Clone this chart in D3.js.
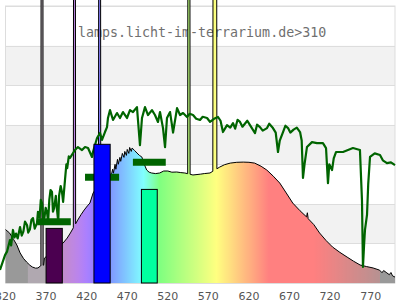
<!DOCTYPE html>
<html>
<head>
<meta charset="utf-8">
<script src="https://cdn.jsdelivr.net/npm/d3@7"></script>
<style>
  body { margin: 0; background: #fff; }
  svg { display: block; }
</style>
</head>
<body>
<div id="chart"></div>
<script>
"use strict";

// lamp spectrum (black outline): [wavelength nm, relative value]
const lampSpectrum = [
    [320, 27], [325, 25.3], [330, 22], [334, 19.2], [338, 15.2], [342, 12.5], [346, 10.6], [350, 9], [353, 8.1],
    [357, 7.5], [360, 7.6], [363, 8.6], [367, 9], [368, 12.6], [375, 15], [385, 18], [391, 20.2], [396, 22.7],
    [400, 25.3], [409, 31.8], [413, 34.5], [417, 36.9], [421, 39], [424, 40.4], [428, 45.5], [432, 48], [440, 50],
    [445, 53], [451, 55.6], [452, 57.5], [453, 55.5], [455, 60], [456, 57.5], [458, 62.5], [459, 60], [461, 63.5],
    [462, 61.5], [464, 65.5], [466, 63.5], [467, 66.5], [469, 64.5], [470, 67.5], [472, 65.5], [473, 68.5],
    [475, 66.5], [476, 68.2], [479, 67], [482, 65.7], [485, 64.5], [488, 63.7], [491, 60], [494, 57.1], [497, 56],
    [500, 55.6], [505, 55.3], [510, 55.6], [515, 56.6], [520, 56.6], [525, 56], [531, 56.1], [536, 55.8],
    [541, 55.6], [551, 54.6], [560, 55], [565, 55.3], [572, 55.6], [584, 58.6], [590, 59.8], [597, 60.6],
    [605, 61], [613, 61.1], [620, 61], [627, 60.6], [635, 59], [642, 57.1], [650, 54], [658, 50.5], [666, 45.5],
    [674, 40.4], [683, 36.5], [691, 33.4], [692, 35.5], [693, 32.5], [700, 29.5], [707, 25.3], [715, 21.5],
    [723, 18.2], [732, 15.5], [741, 13.1], [749, 11], [757, 9.1], [765, 8.3], [773, 7.6], [781, 6.5], [784, 5.2],
    [786, 6.3], [790, 5.1], [793, 4.2], [795, 5.3], [797, 3.6], [800, 3]
];

// mercury emission lines
const lineNm = [365, 405, 436, 546, 578];
const lineHalfWidth = [1.1, 1.1, 1.1, 1.2, 2.2];
const linePeak = 200;

// sunlight reference (green): [wavelength nm, relative value]
const sunSpectrum = [
    [313.2, 6.6], [319.4, 14.1], [322, 16], [325.5, 21.7], [327, 19], [329.2, 26.8], [331, 23], [333, 25],
    [335, 22.5], [337.9, 28.3], [340, 24], [342, 26], [344, 31], [346.5, 29.3], [348, 25.5], [350, 27], [352, 32],
    [353.9, 32.8], [356, 27.5], [358.8, 30.3], [360, 36], [362, 33], [363.5, 42], [365, 40.4], [366.5, 32],
    [368, 33], [369.5, 38], [371.1, 35.9], [372.5, 31], [374, 42], [375.5, 47], [377.3, 46], [378.5, 36],
    [380, 38], [382, 44], [383.5, 36.9], [385, 31], [386, 44], [388, 49], [389.6, 46], [391, 41], [393.3, 52],
    [395, 60], [396, 58], [398, 64], [399.5, 63.2], [405.6, 67.2], [409.3, 68.7], [414.3, 67.2], [418, 68.7],
    [421.7, 68.2], [426.6, 63.7], [427.8, 66.2], [432.8, 73.3], [436.5, 75.8], [438.9, 72.3], [442.6, 76.3],
    [445.1, 78.8], [446.3, 83.4], [448.8, 87.4], [452.5, 82.4], [457.4, 85.9], [461.1, 83.4], [464.8, 86.4],
    [469.7, 83.4], [473.4, 87.4], [477.1, 86.4], [482, 88.9], [485.7, 69.7], [488.2, 83.4], [491.9, 88.9],
    [495.6, 84.9], [500.5, 87.4], [504.2, 84.9], [507.9, 81.4], [510.4, 86.4], [514.1, 78.3], [516.6, 68.7],
    [519, 83.4], [522.8, 86.4], [526.5, 76], [531.4, 88.4], [535.1, 84.9], [538.8, 85.9], [543.7, 83.9],
    [547, 85.5], [551.1, 84.9], [555, 83], [559.7, 82.4], [563, 84], [568.4, 83.4], [572, 81.4], [577, 83],
    [581.9, 83.9], [585, 82], [588, 76.3], [593, 79.8], [597, 78.5], [600.4, 80.8], [603, 78], [606, 82.5],
    [609, 81.4], [612, 79], [615, 80.5], [618, 82], [621.3, 79.8], [624, 78], [627.5, 75.8], [630, 80],
    [633.6, 78.8], [637, 77], [642.3, 78.3], [645, 80.5], [649.6, 78.3], [653, 76], [655.8, 66.2], [658, 72],
    [662, 76.3], [665, 79.5], [668.2, 78.3], [671, 76], [675, 77.5], [679, 78.5], [683, 76.3], [685, 72],
    [686.6, 53.1], [688.5, 60], [691.5, 68.7], [697.7, 71.2], [703.8, 70.7], [711.2, 70.7], [715, 68.2],
    [717.4, 50.5], [719, 60], [722.4, 57.1], [724.5, 63], [727.3, 66.2], [735.9, 66.2], [748.2, 68.2],
    [756.8, 67.2], [759.3, 41.9], [760.5, 8.1], [762, 20], [763, 26.8], [765.5, 34.4], [767, 50], [769.2, 63.7],
    [775, 65.5], [781.5, 64.7], [785, 62], [790.1, 60.6], [795, 61], [800, 59.6]
];

// bands (bars)
const barStart = [370, 429, 487.5];
const barEnd = [390, 449, 507];
const barVal = [27.6, 70.1, 47.3];
const barColors = ["#4b0050", "#0000ff", "#00ffa0"];

// green range markers
const segStart = [359, 418, 477];
const segEnd = [400.5, 460, 517.5];
const segVal = [31, 53.4, 61];

const tickNm = [320, 370, 420, 470, 520, 570, 620, 670, 720, 770];
const title = "lamps.licht-im-terrarium.de>310";

const width = 400, height = 300;
const margin = { top: 6, right: 5, bottom: 17, left: 5.5 };

const x = d3.scaleLinear().domain([320, 800]).range([margin.left, width - margin.right]);
const y = d3.scaleLinear().domain([0, 140]).range([height - margin.bottom, margin.top]);

const svg = d3.select("#chart").append("svg")
    .attr("width", width)
    .attr("height", height);

// colour of a wavelength, pastel, fading to grey outside the visible range
function specColor(nm) {
    if (nm < 348 || nm > 781) return "#999999";
    if (nm < 380) return "#b0a8b0";
    let r = 0, g = 0, b = 0;
    if (nm < 440) { r = (440 - nm) / 60; b = 1; }
    else if (nm < 490) { g = (nm - 440) / 50; b = 1; }
    else if (nm < 510) { g = 1; b = (510 - nm) / 20; }
    else if (nm < 580) { r = (nm - 510) / 70; g = 1; }
    else if (nm < 645) { r = 1; g = (645 - nm) / 65; }
    else r = 1;
    let f = 1;
    if (nm < 420) f = 0.3 + 0.7 * (nm - 380) / 40;
    else if (nm > 700) f = 0.3 + 0.7 * (780 - nm) / 80;
    const c = [r, g, b].map(v => 127.5 + 127.5 * v).map(v => f * v + (1 - f) * 153);
    return d3.rgb(c[0], c[1], c[2]).formatHex();
}

const grad = svg.append("defs").append("linearGradient")
    .attr("id", "spec")
    .attr("gradientUnits", "userSpaceOnUse")
    .attr("x1", x(320)).attr("x2", x(800))
    .attr("y1", 0).attr("y2", 0);
d3.range(320, 801, 1).forEach(nm => {
    grad.append("stop")
        .attr("offset", (nm - 320) / 480)
        .attr("stop-color", specColor(nm));
});

// background bands + grid
const bandEdges = d3.range(0, 141, 20);
svg.selectAll(".band")
    .data(bandEdges.slice(0, -1))
    .enter().append("rect")
    .attr("class", "band")
    .attr("x", x(320))
    .attr("width", x(800) - x(320))
    .attr("y", d => y(d + 20))
    .attr("height", d => y(d) - y(d + 20))
    .attr("fill", (d, i) => i % 2 ? "#f2f2f2" : "#ffffff");

svg.selectAll(".grid")
    .data(bandEdges)
    .enter().append("line")
    .attr("class", "grid")
    .attr("x1", x(320)).attr("x2", x(800))
    .attr("y1", d => Math.round(y(d)) + 0.5)
    .attr("y2", d => Math.round(y(d)) + 0.5)
    .attr("stroke", "#dddddd");

svg.append("rect")
    .attr("x", x(320)).attr("y", y(140))
    .attr("width", x(800) - x(320)).attr("height", y(0) - y(140))
    .attr("fill", "none")
    .attr("stroke", "#dddddd");

svg.append("text")
    .attr("x", 78)
    .attr("y", 37)
    .attr("font-family", "DejaVu Sans Mono, monospace")
    .attr("font-size", "13.3px")
    .attr("fill", "#707070")
    .text(title);

// lamp curve including emission lines
const baseAt = nm => {
    const i = d3.bisector(d => d[0]).left(lampSpectrum, nm);
    const a = lampSpectrum[Math.max(0, i - 1)], b = lampSpectrum[Math.min(lampSpectrum.length - 1, i)];
    if (a[0] === b[0]) return a[1];
    return a[1] + (b[1] - a[1]) * (nm - a[0]) / (b[0] - a[0]);
};
let lampPts = lampSpectrum.filter(p => !lineNm.some((nm, i) => Math.abs(p[0] - nm) < lineHalfWidth[i] + 0.3));
lineNm.forEach((nm, i) => {
    const h = lineHalfWidth[i];
    lampPts.push([nm - h - 0.3, baseAt(nm - h - 0.3)]);
    lampPts.push([nm - h, linePeak]);
    lampPts.push([nm + h, linePeak]);
    lampPts.push([nm + h + 0.3, baseAt(nm + h + 0.3)]);
});
lampPts.sort((a, b) => a[0] - b[0]);

const area = d3.area()
    .x(d => x(d[0]))
    .y0(y(0))
    .y1(d => y(d[1]));
const line = d3.line()
    .x(d => x(d[0]))
    .y(d => y(d[1]));

svg.append("path")
    .datum(lampPts)
    .attr("d", area)
    .attr("fill", "url(#spec)");

svg.append("path")
    .datum(lampPts)
    .attr("d", line)
    .attr("fill", "none")
    .attr("stroke", "#000")
    .attr("stroke-width", 1);

// sunlight
svg.append("path")
    .datum(sunSpectrum)
    .attr("d", line)
    .attr("fill", "none")
    .attr("stroke", "#006400")
    .attr("stroke-width", 2.2)
    .attr("stroke-linejoin", "round");

// range markers
svg.selectAll(".seg")
    .data(segVal)
    .enter().append("line")
    .attr("class", "seg")
    .attr("x1", (d, i) => x(segStart[i]))
    .attr("x2", (d, i) => x(segEnd[i]))
    .attr("y1", d => y(d))
    .attr("y2", d => y(d))
    .attr("stroke", "#006400")
    .attr("stroke-width", 7);

// bars
svg.selectAll(".bar")
    .data(barVal)
    .enter().append("rect")
    .attr("class", "bar")
    .attr("x", (d, i) => x(barStart[i]))
    .attr("width", (d, i) => x(barEnd[i]) - x(barStart[i]))
    .attr("y", d => y(d))
    .attr("height", d => y(0) - y(d))
    .attr("fill", (d, i) => barColors[i])
    .attr("stroke", "#000")
    .attr("stroke-width", 1);

// x labels
svg.selectAll(".tick")
    .data(tickNm)
    .enter().append("text")
    .attr("class", "tick")
    .attr("x", d => x(d))
    .attr("y", 299.5)
    .attr("text-anchor", "middle")
    .attr("font-family", "DejaVu Sans, sans-serif")
    .attr("font-size", "11px")
    .attr("fill", "#555")
    .text(d => d);
</script>
</body>
</html>
